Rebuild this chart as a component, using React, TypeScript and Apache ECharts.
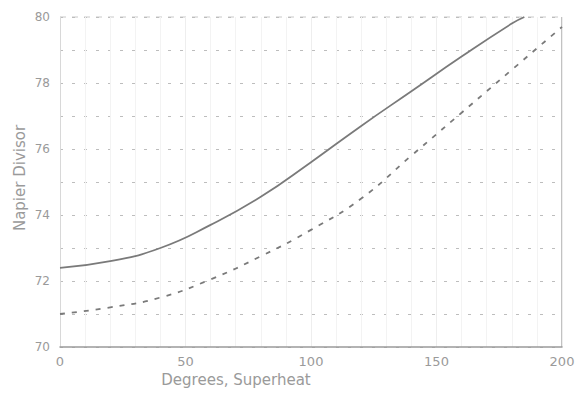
import React, { useEffect, useRef } from "react";
import * as echarts from "echarts";

const superheat = [0, 20, 40, 60, 80, 100, 120, 140, 160, 180, 185];
const solidDivisor = [72.4, 72.6, 73.0, 73.7, 74.55, 75.6, 76.7, 77.75, 78.8, 79.8, 80.0];
const superheatB = [0, 20, 40, 60, 80, 100, 120, 140, 160, 180, 200];
const dashedDivisor = [71.0, 71.2, 71.5, 72.05, 72.75, 73.55, 74.5, 75.8, 77.1, 78.4, 79.7];
const xTitle = "Degrees, Superheat";
const yTitle = "Napier Divisor";

export default function App() {
  const ref = useRef<HTMLDivElement>(null);
  useEffect(() => {
    if (!ref.current) return;
    const chart = echarts.init(ref.current, undefined, { renderer: "svg" });
    const textColor = "#9a9a9a";
    chart.setOption({
      animation: false,
      backgroundColor: "#ffffff",
      grid: { left: 60, right: 20, top: 17, bottom: 49 },
      xAxis: {
        type: "value",
        min: 0,
        max: 200,
        interval: 50,
        axisLine: { show: true, lineStyle: { color: "#9a9a9a", width: 1.5 } },
        axisTick: { show: false },
        axisLabel: { color: textColor, fontSize: 13, fontFamily: "DejaVu Sans", margin: 8 },
        splitLine: { show: true, lineStyle: { color: "#eeeeee", width: 1 } },
        minorTick: { show: false, splitNumber: 5 },
        minorSplitLine: { show: true, lineStyle: { color: "#f3f3f3", width: 1 } },
      },
      yAxis: {
        type: "value",
        min: 70,
        max: 80,
        interval: 2,
        axisLine: { show: true, lineStyle: { color: "#d8d8d8", width: 1 } },
        axisTick: { show: false },
        axisLabel: { color: textColor, fontSize: 12, fontFamily: "DejaVu Sans", margin: 10 },
        splitLine: { show: true, lineStyle: { color: "#bdbdbd", width: 1, type: [3, 9] } },
        minorTick: { show: false, splitNumber: 2 },
        minorSplitLine: { show: true, lineStyle: { color: "#bdbdbd", width: 1, type: [3, 9] } },
      },
      series: [
        {
          type: "line",
          data: superheat.map((x, i) => [x, solidDivisor[i]]),
          smooth: 0.5,
          symbol: "none",
          lineStyle: { color: "#7a7a7a", width: 1.8 },
          z: 5,
        },
        {
          type: "line",
          data: superheatB.map((x, i) => [x, dashedDivisor[i]]),
          smooth: 0.5,
          symbol: "none",
          lineStyle: { color: "#7a7a7a", width: 1.8, type: [5, 7] },
          z: 5,
        },
      ],
      graphic: [
        {
          type: "line",
          shape: { x1: 562, y1: 17, x2: 562, y2: 347 },
          style: { stroke: "#9a9a9a", lineWidth: 1.2 },
        },
        {
          type: "line",
          shape: { x1: 60, y1: 17, x2: 562, y2: 17 },
          style: { stroke: "#c8c8c8", lineWidth: 1, lineDash: [6, 6] },
        },
        {
          type: "text",
          x: 236,
          y: 380,
          style: {
            text: xTitle,
            fill: textColor,
            font: "15px 'DejaVu Sans'",
            textAlign: "center",
            textVerticalAlign: "middle",
          },
        },
        {
          type: "text",
          x: 20,
          y: 178,
          rotation: Math.PI / 2,
          style: {
            text: yTitle,
            fill: textColor,
            font: "15px 'DejaVu Sans'",
            textAlign: "center",
            textVerticalAlign: "middle",
          },
        },
      ],
    });
    return () => chart.dispose();
  }, []);
  return (
    <div
      ref={ref}
      style={{ position: "fixed", left: 0, top: 0, width: 582, height: 396 }}
    />
  );
}
